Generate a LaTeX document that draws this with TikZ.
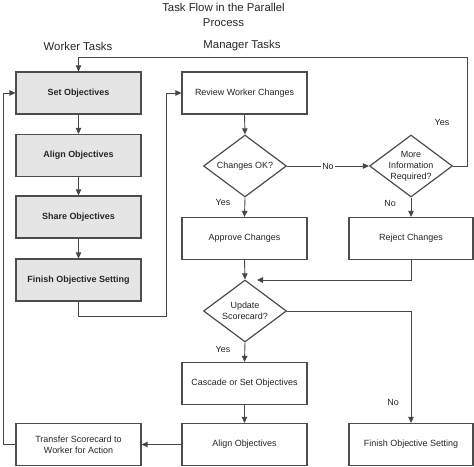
\documentclass[tikz,border=0pt]{standalone}
\usepackage{fontspec}
\setmainfont{Liberation Sans}
\usepackage{tikz}
\usetikzlibrary{
    arrows.meta,
    shapes.geometric,
    positioning,
    calc
}
\tikzset{
    flowline/.style={draw=black!72, line width=0.9pt},
    flowarrow/.style={flowline, -{Triangle[length=6bp,width=5.5bp]}},
    workerbox/.style={rectangle, draw=black!70, line width=1.2pt, fill=black!10,
        minimum width=125bp, minimum height=42bp, inner sep=0pt, align=center,
        text=black!85, font=\fontsize{9}{11}\selectfont\bfseries},
    managerbox/.style={workerbox, fill=white, font=\fontsize{9}{11}\selectfont},
    decision/.style={diamond, draw=black!70, line width=1.2pt, fill=white,
        aspect=1.34, minimum width=83bp, minimum height=62bp, inner sep=-2bp,
        align=center, text=black!85, font=\fontsize{9}{11}\selectfont},
    flowlabel/.style={inner sep=1bp, text=black!85, font=\fontsize{9}{11}\selectfont},
    heading/.style={align=center, text=black!85, font=\fontsize{11.4}{14.5}\selectfont}
}

\begin{document}
\begin{tikzpicture}[x=1bp, y=-1bp]
    \useasboundingbox (0,0) rectangle (474,467);

    \node[heading] (title) at (223.5,15) {Task Flow in the Parallel\\Process};
    \node[heading] (workerhead) at (78,46) {Worker Tasks};
    \node[heading] (managerhead) at (242,46) {Manager Tasks};

    \node[workerbox] (setobj) at (78.5,93) {Set Objectives};
    \node[workerbox] (alignw) at (78.5,155.5) {Align Objectives};
    \node[workerbox] (sharew) at (78.5,217) {Share Objectives};
    \node[workerbox] (finishw) at (78.5,280) {Finish Objective Setting};
    \node[managerbox] (transfer) at (78.5,444.5) {Transfer Scorecard to\\Worker for Action};

    \node[managerbox] (review) at (244.5,93) {Review Worker Changes};
    \node[decision] (changesok) at (245,166) {Changes OK?};
    \node[managerbox] (approve) at (244.5,238.5) {Approve Changes};
    \node[decision] (update) at (245,311) {Update\\Scorecard?};
    \node[managerbox] (cascade) at (244.5,383.5) {Cascade or Set Objectives};
    \node[managerbox] (alignm) at (244.5,444.5) {Align Objectives};

    \node[decision] (moreinfo) at (411,166) {More\\Information\\Required?};
    \node[managerbox, minimum width=124bp] (reject) at (411,238.5) {Reject Changes};
    \node[managerbox, minimum width=124bp] (finishm) at (411,444.5) {Finish Objective Setting};

    \coordinate (toploop) at (467,57);
    \coordinate (workerturn) at (166,316);
    \coordinate (mergetip) at (257,280);
    \coordinate (leftloop) at (3,93);

    \draw[flowarrow] (setobj.south) -- (alignw.north);
    \draw[flowarrow] (alignw.south) -- (sharew.north);
    \draw[flowarrow] (sharew.south) -- (finishw.north);
    \draw[flowarrow] (finishw.south) |- (workerturn) |- (review.west);

    \draw[flowarrow] (review.south) -- (changesok.north);
    \draw[flowarrow] (changesok.east) -- node[flowlabel, fill=white] {No} (moreinfo.west);
    \draw[flowarrow] (moreinfo.east) -| (toploop) -| (setobj.north);
    \draw[flowarrow] (changesok.south) -- (approve.north);
    \draw[flowarrow] (moreinfo.south) -- (reject.north);
    \draw[flowarrow] (approve.south) -- (update.north);
    \draw[flowarrow] (reject.south) |- (mergetip);
    \draw[flowarrow] (update.east) -| (finishm.north);
    \draw[flowarrow] (update.south) -- (cascade.north);
    \draw[flowarrow] (cascade.south) -- (alignm.north);
    \draw[flowarrow] (alignm.west) -- (transfer.east);
    \draw[flowarrow] (transfer.west) -| (leftloop) -- (setobj.west);

    \node[flowlabel] (yesloop) at (442,122) {Yes};
    \node[flowlabel] (yesok) at (223,202) {Yes};
    \node[flowlabel] (noinfo) at (390,203) {No};
    \node[flowlabel] (yesupdate) at (223,349) {Yes};
    \node[flowlabel] (noupdate) at (393,402) {No};
\end{tikzpicture}
\end{document}
